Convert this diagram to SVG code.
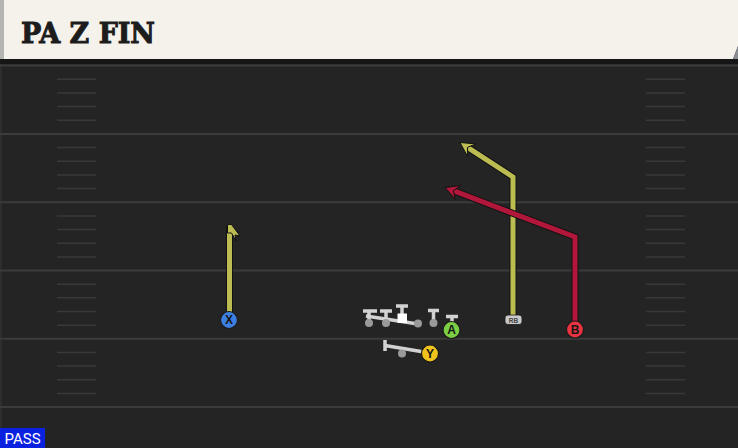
<svg xmlns="http://www.w3.org/2000/svg" width="738" height="448" viewBox="0 0 738 448">
<defs>
<style>
.yard{stroke:#3b3b3b;stroke-width:2}
.hash{stroke:#393939;stroke-width:1.5}
.rt-o{fill:none;stroke:#121212;stroke-width:7;stroke-linejoin:miter}
.yel{fill:none;stroke:#bcbc52;stroke-width:5;stroke-linejoin:miter}
.red{fill:none;stroke:#b0173a;stroke-width:5;stroke-linejoin:miter}
.hy{fill:#bcbc52;stroke:#121212;stroke-width:1;stroke-linejoin:miter}
.hr{fill:#b0173a;stroke:#121212;stroke-width:1;stroke-linejoin:miter}
.blk{fill:none;stroke:#d2d2d2;stroke-width:3.5;stroke-linecap:butt}
.dot{fill:#9a9a9a}
.lbl{font-family:"Liberation Sans",Arial,sans-serif;font-weight:bold;font-size:12px;fill:#161616;text-anchor:middle}
.pc{stroke:#1a1a1a;stroke-width:1.2}
</style>
</defs>
<rect width="738" height="448" fill="#242424"/>
<rect x="0" y="59" width="2" height="389" fill="#2e2e2e"/>
<g id="field">
<line class="yard" x1="0" y1="65.6" x2="738" y2="65.6"/>
<line class="yard" x1="0" y1="133.9" x2="738" y2="133.9"/>
<line class="yard" x1="0" y1="202.2" x2="738" y2="202.2"/>
<line class="yard" x1="0" y1="270.5" x2="738" y2="270.5"/>
<line class="yard" x1="0" y1="338.8" x2="738" y2="338.8"/>
<line class="yard" x1="0" y1="407.1" x2="738" y2="407.1"/>
<g id="hashes">
<path class="hash" d="M57 79.3H96M57 93H96M57 106.6H96M57 120.3H96M57 147.6H96M57 161.2H96M57 174.9H96M57 188.6H96M57 215.9H96M57 229.5H96M57 243.2H96M57 256.9H96M57 284.2H96M57 297.8H96M57 311.5H96M57 325.2H96M57 352.5H96M57 366.1H96M57 379.8H96M57 393.5H96"/>
<path class="hash" d="M646 79.3H685M646 93H685M646 106.6H685M646 120.3H685M646 147.6H685M646 161.2H685M646 174.9H685M646 188.6H685M646 215.9H685M646 229.5H685M646 243.2H685M646 256.9H685M646 284.2H685M646 297.8H685M646 311.5H685M646 325.2H685M646 352.5H685M646 366.1H685M646 379.8H685M646 393.5H685"/>
</g>
</g>
<g id="header">
<rect x="0" y="58" width="738" height="6" fill="#161616"/>
<polygon points="0,0 738,0 738,46 733,59 0,59" fill="#f5f2ec"/>
<polygon points="738,46 733,59 738,59" fill="#8a8c94"/>
<rect x="0" y="0" width="4" height="59" fill="#b4b4b2"/>
<text x="21" y="42.5" font-family="DejaVu Serif" font-weight="bold" font-size="27.5" fill="#1c1c1c" stroke="#1c1c1c" stroke-width="1" textLength="134" lengthAdjust="spacingAndGlyphs">PA Z FIN</text>
</g>
<g id="connectors">
<g id="route-x">
<path class="rt-o" d="M229.5 313V226"/>
<path class="yel" d="M229.5 313V226"/>
<polygon class="hy" points="227.5,224.5 231.5,224.5 240,236 235,235 236,241 231.5,233 227.5,233"/>
</g>
<g id="route-rb">
<path class="rt-o" d="M513 316V177L467.5 147.4"/>
<path class="yel" d="M513 316V177L467.5 147.4"/>
<polygon class="hy" points="460,142.5 475.8,143.9 467.5,147.4 467.6,156.5"/>
</g>
<g id="route-b">
<path class="rt-o" d="M575 322V237L453.4 190.7"/>
<path class="red" d="M575 322V237L453.4 190.7"/>
<polygon class="hr" points="445,187.5 460.8,185.5 453.4,190.7 455.4,199.5"/>
</g>
<g id="blocks">
<path class="blk" d="M363 311H377M369 311V323"/>
<path class="blk" d="M380 311H392M386 311V323"/>
<path class="blk" d="M396 306H408M402 306V318"/>
<path class="blk" d="M366 316L418 324"/>
<path class="blk" d="M428 310.5H439M433.5 310.5V323"/>
<path class="blk" d="M446 316.5H458M452 316.5V322"/>
<path class="blk" d="M385 340V351M385 345.5L424 352"/>
</g>
</g>
<g id="ol">
<circle class="dot" cx="369" cy="323" r="4"/>
<circle class="dot" cx="386" cy="323" r="4"/>
<rect x="397.5" y="313.5" width="9.5" height="9.5" fill="#ffffff"/>
<circle class="dot" cx="418" cy="323.5" r="4"/>
<circle class="dot" cx="433.5" cy="323" r="4"/>
<circle class="dot" cx="402" cy="353.5" r="4"/>
</g>
<g id="node-x">
<circle class="pc" cx="229" cy="320" r="8.5" fill="#3d7fe0"/>
<text class="lbl" x="229" y="324.3">X</text>
</g>
<g id="node-a">
<circle class="pc" cx="451.5" cy="330" r="8.5" fill="#7ccf44"/>
<text class="lbl" x="451.5" y="334.3">A</text>
</g>
<g id="node-y">
<circle class="pc" cx="430" cy="353.5" r="8.5" fill="#efc21c"/>
<text class="lbl" x="430" y="357.8">Y</text>
</g>
<g id="node-rb">
<rect x="505" y="315" width="17" height="9.5" rx="3" fill="#c9c9c9" stroke="#1a1a1a" stroke-width="0.8"/>
<text x="513.5" y="322.5" font-family="'Liberation Sans',Arial,sans-serif" font-size="6.5" font-weight="bold" fill="#444" text-anchor="middle">RB</text>
</g>
<g id="node-b">
<circle class="pc" cx="575" cy="329.5" r="8.5" fill="#e83340"/>
<text class="lbl" x="575" y="333.8">B</text>
</g>
<g id="pass-label">
<rect x="0" y="428" width="45" height="20" fill="#0a22e0"/>
<text x="4.5" y="444" font-family="Roboto,'Liberation Sans',sans-serif" font-size="15" fill="#ffffff">PASS</text>
</g>
</svg>
